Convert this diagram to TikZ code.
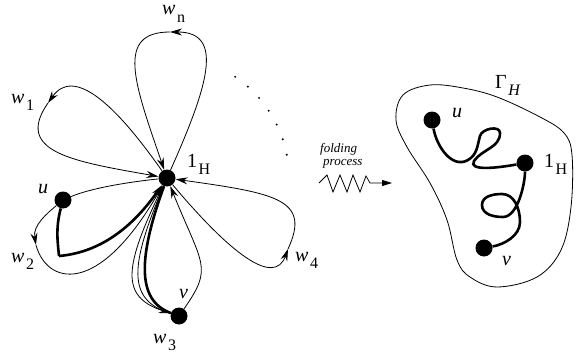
\documentclass[tikz,border=0pt]{standalone}
\usepackage{fontspec}
\setmainfont{Liberation Serif}
\usetikzlibrary{arrows.meta}
\tikzset{
  vertex/.style={circle, fill, inner sep=0pt, minimum size=17pt},
  petal/.style={line width=0.8pt},
  fat/.style={line width=2.6pt},
  arrowed/.style={-{Stealth[length=12pt,width=7pt,inset=4pt]}},
  lab/.style={inner sep=0pt, anchor=base west, font=\fontsize{20}{20}\selectfont},
  tag/.style={inner sep=0pt, anchor=base west, font=\itshape\fontsize{13}{13}\selectfont},
}
\newcommand{\sublbl}[2]{#1\kern1.5pt\raisebox{-7pt}{\fontsize{16}{16}\selectfont #2}}

\begin{document}
\begin{tikzpicture}[x=1pt,y=1pt]
  \useasboundingbox (0,0) rectangle (576,-356);
  % bouquet of loops
  \node[vertex] (hub) at (167,-178) {};
  \node[vertex] (u) at (63,-200) {};
  \node[vertex] (v) at (179,-316) {};
  \coordinate (wnT) at (170,-32);
  \coordinate (w1T) at (48,-103);
  \coordinate (w2T) at (36,-245);
  \coordinate (w4T) at (288,-249);
  \coordinate (kink) at (59,-256);

  \draw[petal, arrowed] (hub) .. controls +(66:100) and +(0:55) .. (wnT);
  \draw[petal, arrowed] (wnT) .. controls +(180:55) and +(109:100) .. (hub);
  \draw[petal, arrowed] (hub) .. controls +(125:90) and +(55:45) .. (w1T);
  \draw[petal, arrowed] (w1T) .. controls +(235:60) and +(170:95) .. (hub);
  \draw[petal] (hub) .. controls +(186:40) and +(23:30) .. (u);
  \draw[petal, arrowed] (u) .. controls +(220:20) and +(100:20) .. (w2T);
  \draw[petal, arrowed] (w2T) .. controls +(285:40) and +(240:140) .. (hub);
  \draw[petal, arrowed] (hub) .. controls +(244:100) and +(162:62) .. (v);
  \draw[petal] (hub) .. controls +(247:95) and +(163:55) .. (v);
  \draw[petal, arrowed] (v) .. controls +(55:60) and +(292:95) .. (hub);
  \draw[petal, arrowed] (hub) .. controls +(-50:100) and +(250:40) .. (w4T);
  \draw[petal, arrowed] (w4T) .. controls +(65:55) and +(-8:110) .. (hub);

  % path u -> 1_H -> v
  \draw[fat] (u) .. controls +(255:30) and +(95:12) .. (kink);
  \draw[fat, arrowed] (kink) .. controls +(5:45) and +(235:55) .. (hub);
  \draw[fat] (hub) .. controls +(250:85) and +(160:45) .. (v);

  \foreach \a in {56,48.5,...,10}
    \fill (hub.center) ++(\a:122) circle (1.1);

  \node[lab] (lwn) at (162,-15) {\sublbl{\textit{w}}{n}};
  \node[lab] (lw1) at (11,-103) {\sublbl{\textit{w}}{1}};
  \node[lab] (lw2) at (11,-262) {\sublbl{\textit{w}}{2}};
  \node[lab] (lw3) at (153,-343) {\sublbl{\textit{w}}{3}};
  \node[lab] (lw4) at (295,-261) {\sublbl{\textit{w}}{4}};
  \node[lab] (lhub) at (187,-167) {\sublbl{1}{H}};
  \node[lab] (lu) at (38,-193) {\textit{u}};
  \node[lab] (lv) at (179,-298) {\textit{v}};

  % folding arrow
  \node[tag] (fold1) at (320,-152) {folding};
  \node[tag] (fold2) at (323,-165) {process};
  \coordinate (zzA) at (319,-183);
  \coordinate (zzB) at (392,-183);
  \draw[petal, -{Triangle[length=10pt,width=6pt]}] (zzA) -- ++(8,8) -- ++(6,-17)
    -- ++(7,17) -- ++(7,-17) -- ++(6,17) -- ++(7,-17) -- ++(6,16) -- ++(4,-7) -- (zzB);

  % folded graph
  \draw[petal] plot[smooth cycle, tension=0.6] coordinates {
    (430,-85) (463,-88) (497,-97) (540,-117) (564,-133) (572,-155)
    (571,-207) (561,-250) (537,-277) (497,-287) (470,-277) (457,-260)
    (447,-220) (430,-183) (407,-147) (396,-120) (403,-95)};
  \node[vertex] (u2) at (432,-120) {};
  \node[vertex] (h2) at (525,-163) {};
  \node[vertex] (v2) at (484,-248) {};
  \coordinate (p1) at (468,-160);
  \coordinate (p2) at (480,-136);
  \coordinate (p3) at (500,-133);
  \coordinate (p4) at (474,-161);
  \coordinate (q1) at (503,-217);
  \coordinate (q2) at (482,-205);
  \coordinate (q3) at (502,-194);
  \coordinate (q4) at (520,-222);
  \draw[fat] (u2) to[out=-80,in=210] (p1) to[out=30,in=255] (p2) to[out=75,in=90] (p3)
    to[out=270,in=55] (p4) .. controls +(240:12) and +(190:28) .. (h2);
  \draw[fat] (h2) .. controls +(270:20) and +(0:15) .. (q1) to[out=180,in=270] (q2)
    to[out=90,in=180] (q3) .. controls +(0:12) and +(90:14) .. (q4)
    .. controls +(270:14) and +(10:20) .. (v2);

  \node[lab] (lu2) at (452,-117) {\textit{u}};
  \node[lab] (lv2) at (502,-265) {\textit{v}};
  \node[lab] (lh2) at (544,-167) {\sublbl{1}{H}};
  \node[lab] (lgam) at (495,-88) {\sublbl{Γ}{\textit{H}}};
\end{tikzpicture}
\end{document}
